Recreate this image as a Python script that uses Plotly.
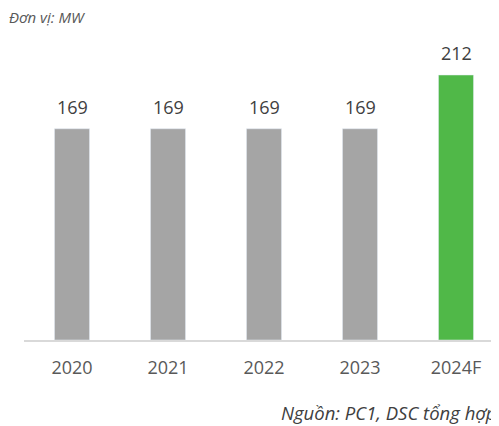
import plotly.graph_objects as go

categories = ["2020", "2021", "2022", "2023", "2024F"]
values = [169, 169, 169, 169, 212]
colors = ["#a5a5a5", "#a5a5a5", "#a5a5a5", "#a5a5a5", "#50b848"]

# page has an 8px body margin; figure coordinates are page - 8
W, H = 491, 418
L, R, T, B = 16, 0, 22, 86
pw, ph = W - L - R, H - T - B

def px_x(x):
    return (x - 8 - L) / pw

def px_y(y):
    return (H - B - (y - 8)) / ph

fig = go.Figure()
fig.add_trace(go.Bar(
    x=list(range(len(categories))), y=values, marker_color=colors,
    width=0.365, hoverinfo="skip",
))

for i, v in enumerate(values):
    fig.add_annotation(x=i, y=v, text=str(v), showarrow=False, yanchor="middle",
                       yshift=22, font=dict(family="Open Sans", size=18, color="#404040"))

fig.add_annotation(xref="paper", yref="paper", x=px_x(7), y=px_y(17), text="<i>Đơn vị: MW</i>",
                   showarrow=False, xanchor="left", yanchor="middle",
                   font=dict(family="Open Sans", size=15, color="#595959"))
fig.add_annotation(xref="paper", yref="paper", x=px_x(279), y=px_y(413), text="<i>Nguồn: PC1, DSC tổng hợp</i>",
                   showarrow=False, xanchor="left", yanchor="middle",
                   font=dict(family="Open Sans", size=18.5, color="#404040"))

span = pw / 96.0
fig.update_layout(
    width=W, height=H, margin=dict(l=L, r=R, t=T, b=B),
    paper_bgcolor="white", plot_bgcolor="white", showlegend=False,
    xaxis=dict(range=[-0.5, -0.5 + span], tickvals=list(range(len(categories))), ticktext=categories,
               showgrid=False, zeroline=False, showline=True, linecolor="#d9d9d9", linewidth=1.5,
               ticks="", tickfont=dict(family="Open Sans", size=18, color="#595959"),
               ticklabelstandoff=11, fixedrange=True),
    yaxis=dict(range=[0, ph / 1.25], visible=False, fixedrange=True),
)

fig.write_html("out.html")
